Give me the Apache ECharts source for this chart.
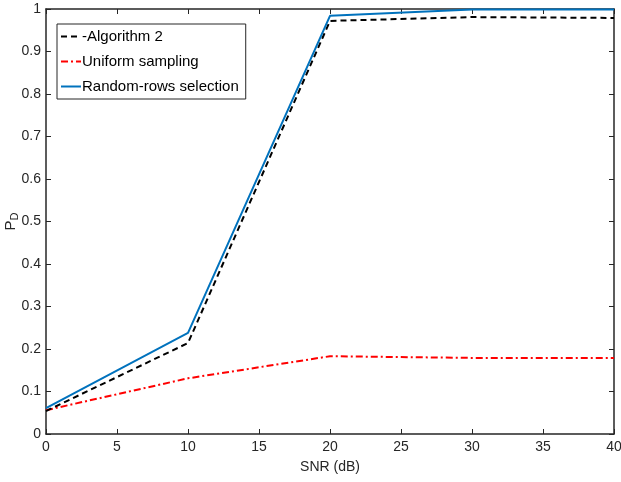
<!DOCTYPE html>
<html>
<head>
<meta charset="utf-8">
<script src="https://cdn.jsdelivr.net/npm/echarts@6/dist/echarts.min.js"></script>
<style>
  html, body { margin: 0; padding: 0; background: #fff; }
  #chart { width: 621px; height: 482px; }
</style>
</head>
<body>
<div id="chart"></div>
<script>
  const snr = [0, 10, 20, 30, 40]
  const algorithm2 = [0.054, 0.214, 0.972, 0.981, 0.979]
  const uniform = [0.056, 0.131, 0.183, 0.179, 0.179]
  const randomRows = [0.061, 0.238, 0.984, 0.999, 0.999]

  const font = '"Liberation Sans Narrow", "Liberation Sans", Arial, sans-serif'
  const axisColor = '#262626'

  const pairs = arr => snr.map((x, i) => [x, arr[i]])

  const chart = echarts.init(document.getElementById('chart'))
  chart.setOption({
    animation: false,
    textStyle: { fontFamily: font },
    grid: { left: 46, right: 7, top: 9, bottom: 48, outerBoundsMode: 'none', containLabel: false },
    legend: {
      orient: 'vertical',
      left: 57,
      top: 24,
      padding: [5, 7, 5, 3],
      itemGap: 10,
      itemWidth: 20,
      itemHeight: 14,
      backgroundColor: '#fff',
      borderColor: axisColor,
      borderWidth: 1,
      borderRadius: 0,
      // hide the circle marker, keep the line
      itemStyle: { opacity: 0 },
      textStyle: { fontFamily: font, fontSize: 15, color: '#000', padding: [0, 0, 0, -4] },
      data: ['-Algorithm 2', 'Uniform sampling', 'Random-rows selection']
    },
    xAxis: [{
      type: 'value',
      min: 0, max: 40, interval: 5,
      name: 'SNR (dB)',
      nameLocation: 'middle',
      nameGap: 26,
      nameMoveOverlap: false,
      nameTextStyle: { fontFamily: font, fontSize: 14, color: axisColor },
      axisLine: { onZero: false, lineStyle: { color: axisColor, width: 1.5 } },
      axisTick: { inside: true, length: 5, lineStyle: { color: axisColor } },
      axisLabel: { fontFamily: font, fontSize: 14, color: axisColor, margin: 6 },
      splitLine: { show: false }
    }, {
      type: 'value', position: 'top',
      min: 0, max: 40, interval: 5,
      axisLine: { show: true, onZero: false, lineStyle: { color: axisColor, width: 1.5 } },
      axisTick: { show: true, inside: true, length: 5, lineStyle: { color: axisColor } },
      axisLabel: { show: false },
      splitLine: { show: false }
    }],
    yAxis: [{
      type: 'value',
      min: 0, max: 1, interval: 0.1,
      name: '{p|P}{d|D}',
      nameLocation: 'middle',
      nameGap: 26,
      nameRotate: 90,
      nameMoveOverlap: false,
      nameTextStyle: {
        rich: {
          p: { fontFamily: font, fontSize: 15, color: axisColor },
          d: { fontFamily: font, fontSize: 11, color: axisColor, verticalAlign: 'bottom', padding: [8, 0, 0, 0] }
        }
      },
      axisLine: { show: true, onZero: false, lineStyle: { color: axisColor, width: 1.5 } },
      axisTick: { show: true, inside: true, length: 5, lineStyle: { color: axisColor } },
      axisLabel: { fontFamily: font, fontSize: 14, color: axisColor, margin: 5 },
      splitLine: { show: false }
    }, {
      type: 'value', position: 'right',
      min: 0, max: 1, interval: 0.1,
      axisLine: { show: true, onZero: false, lineStyle: { color: axisColor, width: 1.5 } },
      axisTick: { show: true, inside: true, length: 5, lineStyle: { color: axisColor } },
      axisLabel: { show: false },
      splitLine: { show: false }
    }],
    series: [{
      name: '-Algorithm 2',
      type: 'line',
      data: pairs(algorithm2),
      symbol: 'none',
      itemStyle: { color: '#000' },
      lineStyle: { color: '#000', width: 2, type: [6, 4] },
      z: 3
    }, {
      name: 'Uniform sampling',
      type: 'line',
      data: pairs(uniform),
      symbol: 'none',
      itemStyle: { color: '#ff0000' },
      lineStyle: { color: '#ff0000', width: 2, type: [7, 3, 2, 3] },
      z: 2
    }, {
      name: 'Random-rows selection',
      type: 'line',
      data: pairs(randomRows),
      symbol: 'none',
      itemStyle: { color: '#0072bd' },
      lineStyle: { color: '#0072bd', width: 2 },
      z: 4
    }]
  })
</script>
</body>
</html>
